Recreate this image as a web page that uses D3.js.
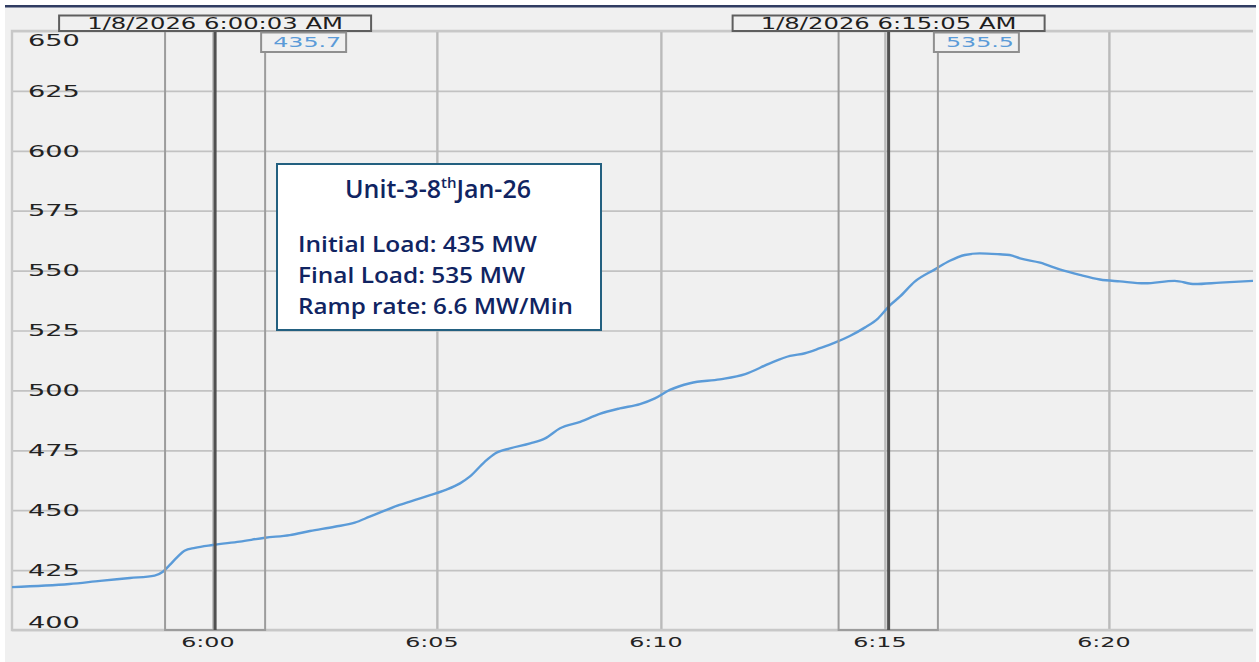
<!DOCTYPE html>
<html>
<head>
<meta charset="utf-8">
<script src="https://cdn.jsdelivr.net/npm/d3@7"></script>
<style>
  html, body { margin: 0; padding: 0; background: #ffffff; }
  svg { display: block; }
</style>
</head>
<body>
<svg id="chart" width="1259" height="662"></svg>
<script>
// ---------------- data ----------------
const times = ["05:55:31","05:56:48","05:57:29","05:58:09","05:58:42","05:58:53","05:59:02","05:59:13","05:59:22","05:59:36",
  "06:00:00","06:00:36","06:01:10","06:01:43","06:02:10","06:02:43","06:03:10","06:03:30","06:03:50","06:04:10",
  "06:04:31","06:04:51","06:05:11","06:05:31","06:05:44","06:06:04","06:06:18","06:06:38","06:07:05","06:07:25",
  "06:07:45","06:08:12","06:08:38","06:09:05","06:09:32","06:09:52","06:10:12","06:10:39","06:11:19","06:11:53",
  "06:12:26","06:12:53","06:13:13","06:13:33","06:13:53","06:14:13","06:14:33","06:14:51","06:15:07","06:15:20",
  "06:15:40","06:16:07","06:16:27","06:16:47","06:17:07","06:17:34","06:17:47","06:18:01","06:18:28","06:18:54",
  "06:19:21","06:19:48","06:20:15","06:20:48","06:21:28","06:21:55","06:22:29","06:23:13"];
const loadMW = [417.9,419.2,420.5,421.7,422.7,424.3,427.1,430.6,433.1,434.3,
  435.5,436.9,438.5,439.6,441.3,443.1,444.8,447.3,449.8,452.2,
  454.3,456.3,458.4,461.2,464.0,470.2,473.7,475.8,477.9,480.0,
  484.2,486.9,490.2,492.5,494.3,496.7,500.2,503.0,504.6,506.8,
  511.3,514.4,515.5,517.6,519.9,522.7,526.2,530.1,535.6,539.1,
  545.4,550.5,554.1,556.5,557.2,556.8,556.5,555.1,553.3,550.5,
  548.2,546.3,545.5,544.7,545.7,544.4,545.0,545.7];

const yTicks = [400,425,450,475,500,525,550,575,600,625,650];
const xTicks = ["06:00:00","06:05:00","06:10:00","06:15:00","06:20:00"];
const xTickLabels = ["6:00","6:05","6:10","6:15","6:20"];
const xDomain = ["05:55:31","06:23:13"];
const yDomain = [400,650];

const cursorTimes  = ["06:00:03","06:15:05"];
const cursorLabels = ["1/8/2026 6:00:03 AM","1/8/2026 6:15:05 AM"];
const cursorValues = ["435.7","535.5"];
const bandStart    = ["05:58:56","06:13:58"];
const bandEnd      = ["06:01:10","06:16:11"];

const noteTitle = ["Unit-3-8","th","Jan-26"];
const noteLines = ["Initial Load: 435 MW","Final Load: 535 MW","Ramp rate: 6.6 MW/Min"];

// ---------------- helpers ----------------
const T = s => { const [h,m,sec] = s.split(":").map(Number); return new Date(2026,0,8,h,m,sec); };
const SX = 1.7; // horizontal stretch of the original screen text
const APPFONT = "'DejaVu Sans', Verdana, sans-serif";

const svg = d3.select("#chart");
const W = 1259, H = 662;
const plot = {left: 12, right: 1253, top: 31, bottom: 630};

const x = d3.scaleTime().domain(xDomain.map(T)).range([plot.left, plot.right]);
const y = d3.scaleLinear().domain(yDomain).range([plot.bottom, plot.top]);

function stretchedText(parent, px, py, txt, opts) {
  const g = parent.append("g").attr("transform", `translate(${px},${py}) scale(${opts.sx || SX},1)`);
  g.append("text")
    .attr("x", 0).attr("y", 0)
    .attr("dominant-baseline", "central")
    .attr("text-anchor", opts.anchor || "start")
    .attr("font-family", APPFONT)
    .attr("font-size", opts.size)
    .attr("fill", opts.fill || "#222")
    .text(txt);
  return g;
}

// ---------------- background ----------------
svg.append("rect").attr("x", 5).attr("y", 5).attr("width", plot.right - 5 + 3).attr("height", H - 5)
  .attr("fill", "#f0f0f0");
svg.append("rect").attr("x", 5).attr("y", 5).attr("width", plot.right - 5 + 3).attr("height", 2.5)
  .attr("fill", "#303c62");

// ---------------- grid ----------------
const gridY = svg.append("g").attr("transform", `translate(${plot.left},0)`)
  .call(d3.axisRight(y).tickValues(yTicks).tickSize(plot.right - plot.left).tickFormat(""));
gridY.select(".domain").remove();
gridY.selectAll(".tick line").attr("stroke", "#c2c2c2").attr("stroke-width", 1.7);

const gridX = svg.append("g").attr("transform", `translate(0,${plot.bottom})`)
  .call(d3.axisTop(x).tickValues(xTicks.map(T)).tickSize(plot.bottom - plot.top).tickFormat(""));
gridX.select(".domain").remove();
gridX.selectAll(".tick line").attr("stroke", "#bababa").attr("stroke-width", 2.4);

// plot frame (left, top, bottom)
svg.append("path")
  .attr("d", `M${plot.right},${plot.top}H${plot.left}V${plot.bottom}H${plot.right}`)
  .attr("fill", "none").attr("stroke", "#c8c8c8").attr("stroke-width", 2.4);

// ---------------- data line ----------------
svg.append("clipPath").attr("id", "clip").append("rect")
  .attr("x", plot.left).attr("y", plot.top).attr("width", plot.right - plot.left).attr("height", plot.bottom - plot.top);

const pts = times.map((t, i) => ({t: T(t), v: loadMW[i]}));
svg.append("path")
  .datum(pts)
  .attr("clip-path", "url(#clip)")
  .attr("fill", "none")
  .attr("stroke", "#5b9bd8")
  .attr("stroke-width", 2.4)
  .attr("stroke-linejoin", "round")
  .attr("d", d3.line().x(d => x(d.t)).y(d => y(d.v)).curve(d3.curveMonotoneX));

// ---------------- cursor bands and cursors ----------------
cursorTimes.forEach((ct, i) => {
  const x0 = x(T(bandStart[i])), x1 = x(T(bandEnd[i])), xc = x(T(ct));
  svg.append("rect")
    .attr("x", x0).attr("y", plot.top).attr("width", x1 - x0).attr("height", plot.bottom - plot.top)
    .attr("fill", "none").attr("stroke", "#9c9c9c").attr("stroke-width", 2);
  svg.append("line")
    .attr("x1", xc).attr("x2", xc).attr("y1", plot.top).attr("y2", plot.bottom)
    .attr("stroke", "#505050").attr("stroke-width", 3);

  // date label box
  const bw = 312;
  svg.append("rect").attr("x", xc - bw / 2).attr("y", 15.5).attr("width", bw).attr("height", 15.5)
    .attr("fill", "#f0f0f0").attr("stroke", "#5e5e5e").attr("stroke-width", 2);
  stretchedText(svg, xc, 23.5, cursorLabels[i], {size: 15, anchor: "middle", fill: "#1e1e1e", sx: 1.62});

  // value box
  const vx = x1 - 4;
  svg.append("rect").attr("x", vx).attr("y", 32.5).attr("width", 85).attr("height", 19.5)
    .attr("fill", "#f0f0f0").attr("stroke", "#8f8f8f").attr("stroke-width", 2);
  stretchedText(svg, vx + 12, 42.5, cursorValues[i], {size: 14, fill: "#5b9bd8"});
});

// ---------------- axis labels ----------------
yTicks.forEach(v => {
  let cy = y(v);
  cy = Math.max(plot.top + 9, Math.min(plot.bottom - 8, cy));
  stretchedText(svg, 28, cy, String(v), {size: 16, fill: "#232323"});
});
xTicks.forEach((t, i) => {
  stretchedText(svg, x(T(t)) - 5, 642, xTickLabels[i], {size: 14, anchor: "middle", fill: "#232323"});
});

// ---------------- annotation box ----------------
const note = svg.append("g");
note.append("rect").attr("x", 277).attr("y", 164).attr("width", 324).attr("height", 166)
  .attr("fill", "#ffffff").attr("stroke", "#236080").attr("stroke-width", 2);
const NOTEFONT = "'Open Sans', 'Noto Sans', sans-serif";
const title = note.append("text")
  .attr("x", 438).attr("y", 198)
  .attr("text-anchor", "middle")
  .attr("font-family", NOTEFONT).attr("font-weight", 600).attr("font-size", 25)
  .attr("fill", "#102462");
title.append("tspan").text(noteTitle[0]);
title.append("tspan").attr("font-size", 15).attr("dy", -10).text(noteTitle[1]);
title.append("tspan").attr("dy", 10).text(noteTitle[2]);

const lineWidths = [239, 227, 275];
noteLines.forEach((s, i) => {
  note.append("text")
    .attr("x", 298).attr("y", 252 + i * 30.8)
    .attr("font-family", NOTEFONT).attr("font-weight", 600).attr("font-size", 21)
    .attr("fill", "#102462")
    .attr("textLength", lineWidths[i]).attr("lengthAdjust", "spacingAndGlyphs")
    .text(s);
});
</script>
</body>
</html>
